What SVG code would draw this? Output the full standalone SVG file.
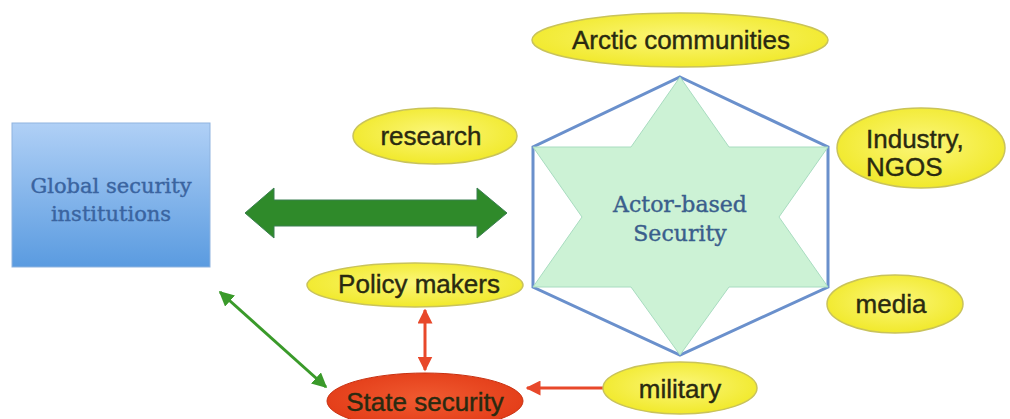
<svg xmlns="http://www.w3.org/2000/svg" width="1010" height="419" viewBox="0 0 1010 419">
<defs>
<linearGradient id="blueg" x1="0" y1="0" x2="0" y2="1">
<stop offset="0" stop-color="#b0d0f6"/>
<stop offset="1" stop-color="#5a9be0"/>
</linearGradient>
<radialGradient id="yel" cx="0.5" cy="0.45" r="0.6">
<stop offset="0" stop-color="#fbf67a"/>
<stop offset="1" stop-color="#f0e824"/>
</radialGradient>
<radialGradient id="red" cx="0.5" cy="0.45" r="0.6">
<stop offset="0" stop-color="#f05a30"/>
<stop offset="1" stop-color="#e23a16"/>
</radialGradient>
<marker id="rh" viewBox="0 0 10 10" refX="9" refY="5" markerWidth="5" markerHeight="5" orient="auto-start-reverse">
<path d="M0,0 L10,5 L0,10 z" fill="#e8482a"/>
</marker>
<marker id="gh" viewBox="0 0 10 10" refX="9" refY="5" markerWidth="5" markerHeight="5" orient="auto-start-reverse">
<path d="M0,0 L10,5 L0,10 z" fill="#3a9a2a"/>
</marker>
</defs>
<style>
.ell{fill:url(#yel);stroke:#c9c35a;stroke-width:1.5}
.lbl{font-family:"Liberation Sans",Arial,sans-serif;font-size:26px;fill:#2a2a10;stroke:#2a2a10;stroke-width:0.4}
.ser{font-family:"DejaVu Serif","Liberation Serif",serif;font-size:21px;fill:#3a64a0;stroke:#3a64a0;stroke-width:0.4}
</style>
<rect width="1010" height="419" fill="#ffffff"/>

<g id="connectors">
<path id="bigArrow" d="M245,213 L274,188 L274,200 L477,200 L477,188 L507,213 L477,238 L477,226 L274,226 L274,238 Z" fill="#2f8a2a" stroke="#3a7f50" stroke-width="1"/>
<line x1="220" y1="292" x2="326" y2="387" stroke="#3a9a2a" stroke-width="3" marker-start="url(#gh)" marker-end="url(#gh)"/>
<line x1="425" y1="310" x2="425" y2="370" stroke="#e8482a" stroke-width="3" marker-start="url(#rh)" marker-end="url(#rh)"/>
<line x1="604" y1="388" x2="527" y2="388" stroke="#e8482a" stroke-width="3" marker-end="url(#rh)"/>
</g>

<g id="global-security">
<rect x="12" y="123" width="198" height="144" fill="url(#blueg)" stroke="#8fb3df" stroke-width="1"/>
<text class="ser" x="111" y="193" text-anchor="middle">Global security</text>
<text class="ser" x="111" y="221" text-anchor="middle">institutions</text>
</g>

<g id="actor-based">
<polygon points="680,77 828,147 828,287 680,355 533,287 533,147" fill="#ffffff" stroke="#6a90cc" stroke-width="3"/>
<polygon points="680,77 631,147 533,147 582,217 533,287 631,287 680,355 729,287 828,287 779,217 828,147 729,147" fill="#ccf2d5" stroke="#a8dcc0" stroke-width="1"/>
<text class="ser" x="680" y="212" text-anchor="middle" style="font-size:22px;fill:#3a5e8c;stroke:#3a5e8c">Actor-based</text>
<text class="ser" x="680" y="241" text-anchor="middle" style="font-size:22px;fill:#3a5e8c;stroke:#3a5e8c">Security</text>
</g>

<g id="arctic">
<ellipse class="ell" cx="680" cy="40" rx="148" ry="27"/>
<text class="lbl" x="681" y="49" text-anchor="middle">Arctic communities</text>
</g>

<g id="research">
<ellipse class="ell" cx="435" cy="136" rx="82" ry="28"/>
<text class="lbl" x="431" y="145" text-anchor="middle">research</text>
</g>

<g id="industry">
<ellipse class="ell" cx="921" cy="148" rx="84" ry="40"/>
<text class="lbl" x="866" y="148">Industry,</text>
<text class="lbl" x="866" y="176">NGOS</text>
</g>

<g id="media">
<ellipse class="ell" cx="895" cy="304" rx="68" ry="29"/>
<text class="lbl" x="891" y="313" text-anchor="middle">media</text>
</g>

<g id="policy">
<ellipse class="ell" cx="415" cy="285" rx="108" ry="22"/>
<text class="lbl" x="419" y="293" text-anchor="middle">Policy makers</text>
</g>

<g id="military">
<ellipse class="ell" cx="680" cy="388" rx="77" ry="26"/>
<text class="lbl" x="680" y="398" text-anchor="middle">military</text>
</g>

<g id="state">
<ellipse cx="425" cy="401" rx="98" ry="28" fill="url(#red)" stroke="#c83010" stroke-width="1"/>
<text class="lbl" x="425" y="411" text-anchor="middle">State security</text>
</g>
</svg>
